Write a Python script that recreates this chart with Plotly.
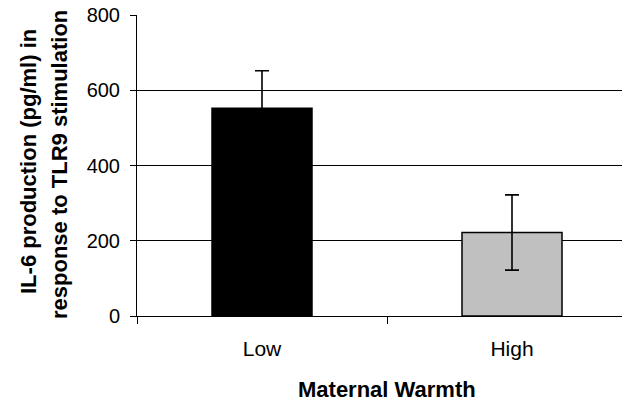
import plotly.graph_objects as go

# IL-6 production by maternal warmth group
categories = ["Low", "High"]
il6_means = [552, 222]
il6_errors = [100, 100]
bar_colors = ["#000000", "#C0C0C0"]
y_ticks = [0, 200, 400, 600, 800]

FONT = "Liberation Sans, Arial, sans-serif"

fig = go.Figure()
fig.add_trace(go.Bar(
    x=categories,
    y=il6_means,
    width=0.4,
    marker=dict(color=bar_colors, line=dict(color="#000000", width=1.5)),
    error_y=dict(type="data", array=il6_errors, visible=True,
                 color="#000000", thickness=1.6, width=7),
    showlegend=False,
))

fig.update_layout(
    width=622, height=401,
    margin=dict(l=137, r=0, t=15, b=85),
    paper_bgcolor="white", plot_bgcolor="white",
    font=dict(family=FONT, size=20, color="#000000"),
)

fig.update_xaxes(
    type="category",
    range=[-0.5, 1.44],
    showline=True, linecolor="#000000", linewidth=1,
    ticks="outside", tickson="boundaries", ticklen=7, tickcolor="#000000", tickwidth=1,
    showgrid=False,
    tickfont=dict(family=FONT, size=21),
    ticklabelstandoff=14,
)

fig.update_yaxes(
    range=[0, 800],
    tickvals=y_ticks,
    showline=True, linecolor="#000000", linewidth=1,
    ticks="outside", ticklen=6, tickcolor="#000000", tickwidth=1,
    showgrid=True, gridcolor="#000000", gridwidth=1,
    zeroline=False,
    tickfont=dict(family=FONT, size=20),
    ticklabelstandoff=6,
)

# Axis titles
fig.add_annotation(
    text="<b>Maternal Warmth</b>", xref="x", yref="paper",
    x=0.5, y=0, xanchor="center", yanchor="middle", yshift=-73,
    showarrow=False, font=dict(family=FONT, size=22),
)
fig.add_annotation(
    text="<b>IL-6 production (pg/ml) in</b>", xref="paper", yref="paper",
    x=0, y=0.5, xanchor="center", yanchor="middle", xshift=-108.5, yshift=4,
    textangle=-90, showarrow=False, font=dict(family=FONT, size=22),
)
fig.add_annotation(
    text="<b>response to TLR9 stimulation</b>", xref="paper", yref="paper",
    x=0, y=0.5, xanchor="center", yanchor="middle", xshift=-77.5, yshift=1,
    textangle=-90, showarrow=False, font=dict(family=FONT, size=22),
)

fig.write_html("out.html")
